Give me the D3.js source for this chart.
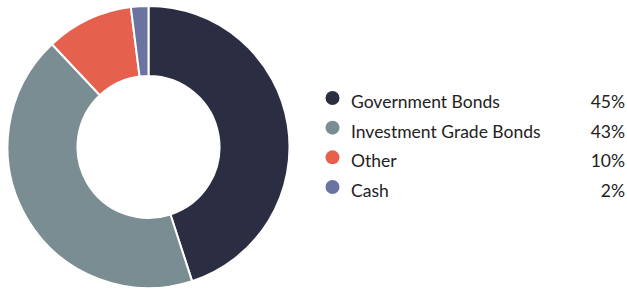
<!DOCTYPE html>
<html lang="en">
<head>
  <meta charset="UTF-8">
  <title>Asset allocation donut</title>
  <style>
    body { margin: 0; background: #fff; }
    svg { display: block; }
    .legend text {
      font: 17.5px Lato, sans-serif;
      fill: #222;
    }
  </style>
</head>
<body>
  <svg width="627" height="291"></svg>
  <script src="https://d3js.org/d3.v7.min.js"></script>
  <script>
    // data
    const categories = ['Government Bonds', 'Investment Grade Bonds', 'Other', 'Cash'];
    const values = [45, 43, 10, 2];
    const colors = ['#2b2e42', '#7a8d92', '#e5614e', '#6b74a0'];

    const data = categories.map((c, i) => ({ name: c, value: values[i], color: colors[i] }));

    const svg = d3.select("svg");
    const cx = 148.5, cy = 147;
    const outer = 141, inner = 71;

    const pie = d3.pie().sort(null).value(d => d.value);
    const arc = d3.arc().innerRadius(inner).outerRadius(outer);

    svg.append("g")
      .attr("transform", `translate(${cx},${cy})`)
      .selectAll("path")
      .data(pie(data))
      .enter()
      .append("path")
      .attr("d", arc)
      .style("fill", d => d.data.color)
      .style("stroke", "#fff")
      .style("stroke-width", 2);

    // legend, y = text baseline
    const rowY = d3.scalePoint().domain(categories).range([108, 197]);

    const row = svg.append("g")
      .attr("class", "legend")
      .selectAll("g")
      .data(data)
      .enter()
      .append("g")
      .attr("transform", d => `translate(0,${rowY(d.name)})`);

    row.append("circle")
      .attr("cx", 332.5)
      .attr("cy", -10)
      .attr("r", 7)
      .style("fill", d => d.color);

    row.append("text")
      .attr("x", 351)
      .text(d => d.name);

    row.append("text")
      .attr("x", 625)
      .style("text-anchor", "end")
      .text(d => d.value + "%");
  </script>
</body>
</html>
